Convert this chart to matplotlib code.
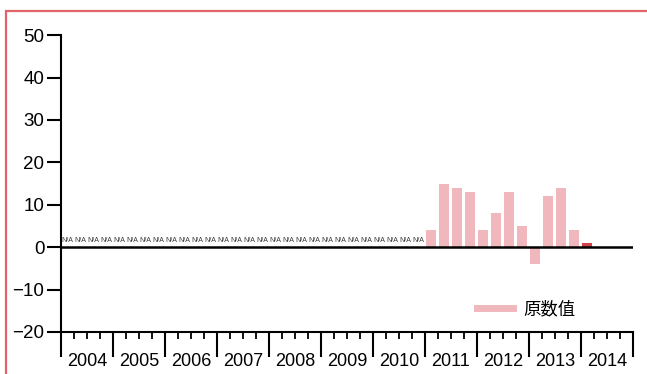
import matplotlib
matplotlib.use("Agg")
import matplotlib.pyplot as plt
from matplotlib.patches import Rectangle
from matplotlib.lines import Line2D
from matplotlib import font_manager

# quarterly values, 2004Q1 .. 2014Q4; the first quarters have no data (N/A)
years = ["2004", "2005", "2006", "2007", "2008", "2009",
         "2010", "2011", "2012", "2013", "2014"]
na_quarters = 28
values = [4, 15, 14, 13, 4, 8, 13, 5, -4, 12, 14, 4, 1]
latest_flag = [False] * 12 + [True]
legend_label = "原数值"
yticks = [50, 40, 30, 20, 10, 0, -10, -20]

PINK = "#f0b8bc"
DARK = "#d0454c"
FRAME = "#e0646a"

names = {f.name for f in font_manager.fontManager.ttflist}
narrow = "Liberation Sans Narrow" if "Liberation Sans Narrow" in names else "Liberation Sans"
plt.rcParams["font.family"] = [narrow, "Noto Sans CJK JP", "DejaVu Sans"]

fig = plt.figure(figsize=(6.47, 3.74), dpi=100)
ax = fig.add_axes([0.0943, 0.1123, 0.8837, 0.7937])

# outer frame running off the right/bottom edges
fig.patches.append(Rectangle((0.0093, -0.2), 1.2, 0.971 + 0.2, transform=fig.transFigure,
                             fill=False, edgecolor=FRAME, linewidth=1.6, clip_on=False))

n_q = len(years) * 4
for i in range(na_quarters):
    ax.text(i + 0.5, 0.8, "N/A", ha="center", va="bottom", fontsize=5.0,
            color="#333333", family=narrow)

start = na_quarters
for k, (v, flag) in enumerate(zip(values, latest_flag)):
    ax.bar(start + k + 0.5, v, width=0.78, color=DARK if flag else PINK, zorder=2)

ax.axhline(0, color="black", linewidth=1.8, zorder=3)

ax.set_xlim(0, n_q)
ax.set_ylim(-20, 50)
ax.set_yticks(yticks)
ax.set_yticklabels([str(t) if t >= 0 else "\u2212" + str(-t) for t in yticks], fontsize=13.5)

ax.set_xticks(range(0, n_q + 1, 4))
ax.set_xticklabels([])
ax.set_xticks(range(0, n_q + 1), minor=True)
ax.tick_params(axis="x", which="major", length=18, width=1.5, direction="out")
ax.tick_params(axis="x", which="minor", length=5, width=1.3, direction="out")
ax.tick_params(axis="y", length=10, width=1.5, pad=2)

for j, y in enumerate(years):
    ax.text(j * 4 + 2, -0.072, y, transform=ax.get_xaxis_transform(),
            ha="center", va="top", fontsize=13)

for s in ["top", "right"]:
    ax.spines[s].set_visible(False)
for s in ["left", "bottom"]:
    ax.spines[s].set_linewidth(1.5)

handle = Line2D([], [], color=PINK, linewidth=5)
ax.legend([handle], [legend_label], loc="center left", bbox_to_anchor=(0.70, 0.077),
          frameon=False, handlelength=2.1, handletextpad=0.6,
          prop={"family": ["Noto Sans CJK JP"], "size": 12.5})

fig.savefig("out.png", dpi=100)
